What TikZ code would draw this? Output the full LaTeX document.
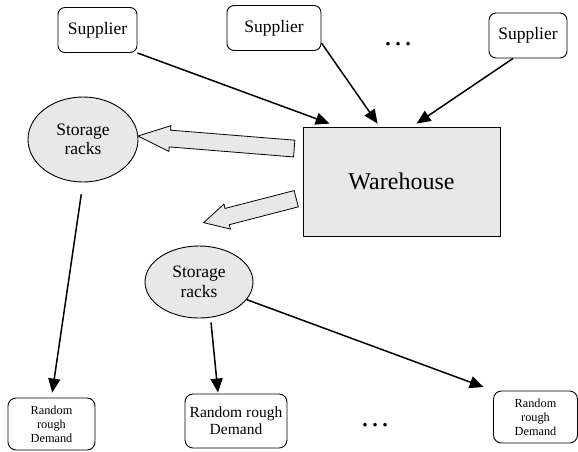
\documentclass[tikz,border=0pt]{standalone}
\usepackage{fontspec}
\setmainfont{Liberation Serif}
\usepackage{tikz}
\usetikzlibrary{arrows.meta}
\usetikzlibrary{shapes}
\usetikzlibrary{shapes.arrows}
\usetikzlibrary{calc}

\newcommand{\fs}[2]{\fontsize{#1}{#2}\selectfont}

\tikzset{
  supplier/.style={draw, rounded corners=7pt, line width=0.9pt, inner sep=0pt,
    minimum height=45pt, font=\fs{17.5}{20}},
  rack/.style={draw, ellipse, fill=gray!18, line width=0.9pt, inner sep=0pt,
    align=center, font=\fs{17.5}{19.5}},
  demand/.style={draw, rounded corners=8pt, line width=0.9pt, inner sep=0pt,
    align=center},
  flow/.style={line width=1.5pt, -{Triangle[length=14pt,width=12pt]}},
  bigarrow/.style={draw, single arrow, fill=gray!18, line width=0.8pt,
    inner xsep=0pt, inner ysep=8pt, minimum width=25pt,
    single arrow head extend=4.5pt, sloped, allow upside down,
    pos=0, anchor=tail}
}

\begin{document}
\begin{tikzpicture}[x=1pt, y=1pt]
        \useasboundingbox (0, 0) rectangle (578, -451);

        % suppliers
        \node[supplier, minimum width=79pt] (sup1) at (97.5, -30) {Supplier};
        \node[supplier, minimum width=94pt] (sup2) at (274, -28) {Supplier};
        \node[supplier, minimum width=78pt] (sup3) at (528, -35.5) {Supplier};
        \node[font=\fs{30}{30}] (topdots) at (398, -44) {…};

        % warehouse and racks
        \node[draw, fill=gray!18, line width=0.8pt, minimum width=197pt,
          minimum height=109pt, font=\fs{24}{24}] (wh) at (401.5, -181.5) {Warehouse};
        \node[rack, minimum width=110pt, minimum height=85pt] (s1) at (83, -139.5) {Storage\\racks};
        \node[rack, minimum width=108pt, minimum height=72pt] (s2) at (199, -282) {Storage\\racks};

        % demand points
        \node[demand, minimum width=87pt, minimum height=52pt, font=\fs{12.3}{14}] (d1)
          at (51.5, -424) {Random\\rough\\Demand};
        \node[demand, minimum width=102pt, minimum height=54pt, font=\fs{15.5}{17}] (d2)
          at (236, -421) {Random rough\\Demand};
        \node[demand, minimum width=84pt, minimum height=52pt, font=\fs{12.3}{14}] (d3)
          at (535.5, -417) {Random\\rough\\Demand};
        \node[font=\fs{30}{30}] (botdots) at (375, -425) {…};

        % deliveries into the warehouse
        \draw[flow] (sup1.south east) -- ([xshift=27pt, yshift=3pt]wh.north west);
        \draw[flow] ([yshift=8pt]sup2.south east) -- ([xshift=75pt, yshift=3pt]wh.north west);
        \draw[flow] ([xshift=-15pt]sup3.south) -- ([xshift=114pt, yshift=3pt]wh.north west);

        % stock moved from the warehouse to the racks
        \coordinate (tail1) at ([xshift=-8pt, yshift=-22pt]wh.north west);
        \coordinate (tip1) at ([yshift=3.5pt]s1.east);
        \coordinate (tail2) at ([xshift=-6pt, yshift=-72pt]wh.north west);
        \coordinate (tip2) at ([xshift=5pt, yshift=23pt]s2.north);
        \path let \p1 = ($(tip1)-(tail1)$), \n1 = {veclen(\x1, \y1)} in
          (tail1) -- node[bigarrow, single arrow tip angle=44, minimum height=\n1] {} (tip1);
        \path let \p1 = ($(tip2)-(tail2)$), \n1 = {veclen(\x1, \y1)} in
          (tail2) -- node[bigarrow, single arrow tip angle=56, minimum height=\n1] {} (tip2);

        % racks serving the demand
        \draw[flow, shorten <=12pt, shorten >=5pt] (s1.south) -- (d1.north);
        \draw[flow] ([xshift=12pt, yshift=-4pt]s2.south) -- ([xshift=-18pt, yshift=1pt]d2.north);
        \draw[flow, shorten >=10pt] (s2) -- (d3.north west);
      \end{tikzpicture}
\end{document}
